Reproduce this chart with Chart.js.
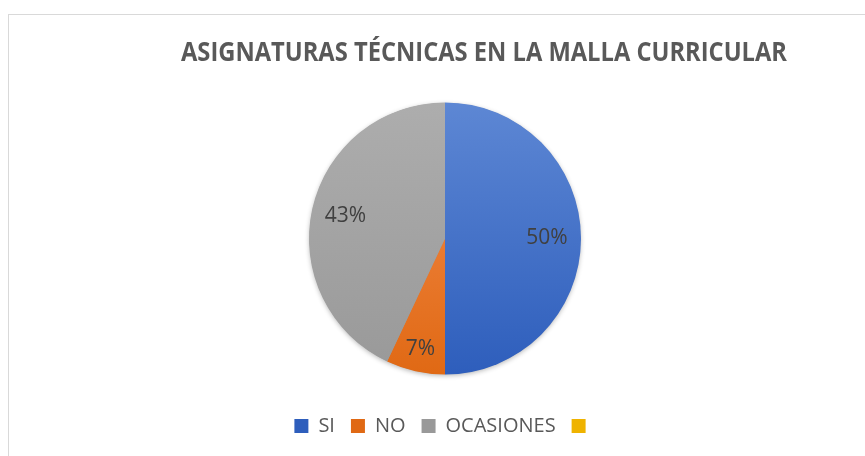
<!DOCTYPE html>
<html>
<head>
<meta charset="utf-8">
<script src="https://cdn.jsdelivr.net/npm/chart.js@4"></script>
<style>
  html, body { margin: 0; padding: 0; background: #fff; overflow: hidden; }
  #frame { position: absolute; left: 8px; top: 14px; width: 900px; height: 500px; border: 1px solid #d9d9d9; }
  #wrap { position: absolute; left: 0; top: 0; width: 884px; height: 441px; }
</style>
</head>
<body>
<div id="frame"><div id="wrap"><canvas id="pieChart"></canvas></div></div>
<script>
const chartTitle = 'ASIGNATURAS TÉCNICAS EN LA MALLA CURRICULAR';
const categories = ['SI', 'NO', 'OCASIONES', ''];
const values = [50, 7, 43, 0];
const topColors = ['#5d87d4', '#f58e50', '#adadad', '#ffcd33'];
const bottomColors = ['#2e5ebc', '#e06914', '#999999', '#efb300'];
const pieRadius = 136;

document.addEventListener('DOMContentLoaded', function() {
    const ctx = document.getElementById('pieChart').getContext('2d');

    // vertical gradient over the pie, like the Excel fill
    function sliceFill(context) {
        const i = context.dataIndex;
        const chart = context.chart;
        const area = chart.chartArea;
        if (!area) return topColors[i];
        const cy = (area.top + area.bottom) / 2;
        const g = chart.ctx.createLinearGradient(0, cy - pieRadius, 0, cy + pieRadius);
        g.addColorStop(0, topColors[i]);
        g.addColorStop(1, bottomColors[i]);
        return g;
    }

    const titlePlugin = {
        id: 'excelTitle',
        afterDraw(chart) {
            const c = chart.ctx;
            c.save();
            c.font = 'bold 26px "Liberation Sans Narrow", "Open Sans", sans-serif';
            c.fillStyle = '#595959';
            c.textAlign = 'center';
            c.textBaseline = 'middle';
            const w = c.measureText(chartTitle).width;
            c.translate(475, 39);
            c.scale(606 / w, 1);
            c.fillText(chartTitle, 0, 0);
            c.restore();
        }
    };

    const shadowPlugin = {
        id: 'pieShadow',
        beforeDatasetsDraw(chart) {
            const arc = chart.getDatasetMeta(0).data[0];
            if (!arc) return;
            const c = chart.ctx;
            c.save();
            c.shadowColor = 'rgba(0,0,0,0.3)';
            c.shadowBlur = 5;
            c.shadowOffsetY = 1.5;
            c.fillStyle = '#999';
            c.beginPath();
            c.arc(arc.x, arc.y, arc.outerRadius - 0.5, 0, Math.PI * 2);
            c.fill();
            c.restore();
        }
    };

    const labelPlugin = {
        id: 'sliceLabels',
        afterDatasetsDraw(chart) {
            const c = chart.ctx;
            const data = chart.data.datasets[0].data;
            const total = data.reduce((a, b) => a + b, 0);
            c.save();
            c.font = '21px "Open Sans", sans-serif';
            c.fillStyle = '#404040';
            c.textAlign = 'center';
            c.textBaseline = 'middle';
            chart.getDatasetMeta(0).data.forEach((arc, i) => {
                if (!data[i]) return;
                const share = data[i] / total;
                const mid = (arc.startAngle + arc.endAngle) / 2;
                const f = share < 0.1 ? 0.83 : 0.75;
                const x = arc.x + Math.cos(mid) * arc.outerRadius * f;
                const y = arc.y + Math.sin(mid) * arc.outerRadius * f;
                c.fillText(Math.round(share * 100) + '%', x, y);
            });
            c.restore();
        }
    };

    new Chart(ctx, {
        type: 'pie',
        data: {
            labels: categories,
            datasets: [{
                data: values,
                backgroundColor: sliceFill,
                borderWidth: 0,
                radius: pieRadius
            }]
        },
        options: {
            responsive: true,
            maintainAspectRatio: false,
            animation: false,
            layout: { padding: { top: 62, bottom: 10, right: 12 } },
            plugins: {
                title: { display: false },
                tooltip: { enabled: false },
                legend: {
                    position: 'bottom',
                    labels: {
                        color: '#595959',
                        font: { family: '"Open Sans", sans-serif', size: 20 },
                        boxWidth: 14,
                        boxHeight: 14,
                        padding: 16
                    }
                }
            }
        },
        plugins: [shadowPlugin, labelPlugin, titlePlugin]
    });
});
</script>
</body>
</html>
